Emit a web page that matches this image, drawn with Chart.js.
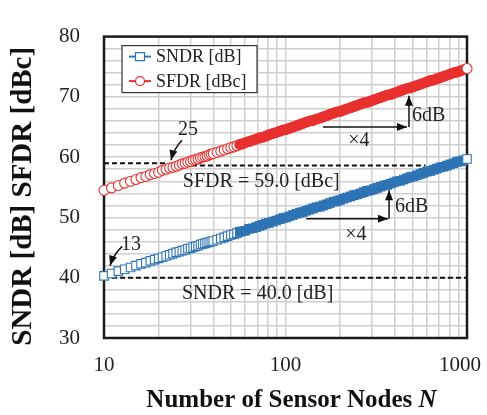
<!DOCTYPE html>
<html>
<head>
<meta charset="utf-8">
<script src="https://cdn.jsdelivr.net/npm/chart.js@4/dist/chart.umd.min.js"></script>
<style>
  html, body { margin: 0; padding: 0; background: #fff; }
</style>
</head>
<body>
<canvas id="myChart" width="487" height="415"></canvas>
<script>
// number of sensor nodes N (x values of both series)
const nodes = [10,11,12,13,14,15,16,17,18,19,20,21,22,23,24,25,26,27,28,29,30,31,32,33,34,35,36,37,38,39,40,
  42,44,46,48,50,52,54,56,58,60,63,66,69,72,75,78,81,85,89,93,97,101,105,110,115,120,125,130,
  136,142,148,155,162,169,176,184,192,200,209,218,228,238,248,259,270,282,294,307,320,334,348,
  363,379,395,412,430,448,467,487,508,530,553,577,602,628,655,683,712,743,775,808,843,879,917,956,1000];

const sndr = [40.3,40.7,41.1,41.4,41.7,42.0,42.3,42.5,42.8,43.0,
  43.2,43.4,43.6,43.8,44.0,44.2,44.3,44.5,44.6,44.8,
  44.9,45.1,45.2,45.3,45.5,45.6,45.7,45.8,45.9,46.0,46.1,
  46.3,46.5,46.7,46.9,47.1,47.2,47.4,47.6,47.7,47.8,
  48.1,48.2,48.4,48.6,48.8,49.0,49.1,
  49.3,49.5,49.7,49.9,50.0,50.2,
  50.4,50.6,50.8,50.9,51.1,
  51.3,51.5,51.7,51.8,52.0,52.2,52.4,
  52.6,52.7,52.9,53.1,53.3,53.5,53.7,53.8,
  54.0,54.2,54.4,54.5,54.7,54.9,55.1,55.3,
  55.4,55.6,55.8,56.0,56.1,56.3,56.5,56.7,
  56.8,57.0,57.2,57.4,57.6,57.7,57.9,58.1,
  58.3,58.4,58.6,58.8,59.0,59.2,59.3,59.5,59.7];

const sfdr = [54.5,54.9,55.3,55.7,56.0,56.3,56.6,56.8,57.1,57.3,
  57.5,57.8,58.0,58.2,58.3,58.5,58.7,58.9,59.0,59.2,
  59.3,59.5,59.6,59.7,59.9,60.0,60.1,60.2,60.4,60.5,60.6,
  60.8,61.0,61.2,61.4,61.6,61.7,61.9,62.1,62.2,62.4,
  62.6,62.8,63.0,63.2,63.3,63.5,63.7,
  63.9,64.1,64.3,64.5,64.6,64.8,
  65.0,65.2,65.4,65.6,65.8,
  66.0,66.1,66.3,66.5,66.7,66.9,67.1,
  67.3,67.5,67.6,67.8,68.0,68.2,68.4,68.6,
  68.8,69.0,69.1,69.3,69.5,69.7,69.9,70.1,
  70.3,70.4,70.6,70.8,71.0,71.2,71.4,71.5,
  71.7,71.9,72.1,72.3,72.5,72.7,72.8,73.0,
  73.2,73.4,73.6,73.8,74.0,74.1,74.3,74.5,74.7];

// dashed requirement lines
const sndrLimitN = [10, 1000];
const sndrLimit = [40.0, 40.0];
const sfdrLimitN1 = [10, 22.5];
const sfdrLimit1 = [59.0, 59.0];
const sfdrLimitN2 = [30.5, 590];
const sfdrLimit2 = [58.6, 58.6];

const xGridValues = [10,20,30,40,50,60,70,80,90,100,200,300,400,500,600,700,800,900,1000];
const xTickLabels = [10, 100, 1000];
const yTickLabels = [30, 40, 50, 60, 70, 80];

const blue = '#2e74b5';
const red = '#e8302f';
const serif = '"Liberation Serif", "Times New Roman", serif';

// annotations in data coordinates (N, dB)
const notes = [
  {text: '25', n: 29.0, v: 64.6, align: 'center'},
  {text: '13', n: 14.1, v: 45.5, align: 'center'},
  {text: 'SFDR = 59.0 [dBc]', n: 27.2, v: 55.9, align: 'left'},
  {text: 'SNDR = 40.0 [dB]', n: 26.9, v: 37.3, align: 'left'},
  {text: '6dB', n: 498, v: 66.8, align: 'left'},
  {text: '\u00d74', n: 254, v: 62.8, align: 'center'},
  {text: '6dB', n: 401, v: 51.7, align: 'left'},
  {text: '\u00d74', n: 244, v: 47.1, align: 'center'}
];
const arrows = [
  {from: [26.9, 62.8], to: [23.4, 59.5], bend: 3},
  {from: [12.6, 45.2], to: [10.8, 42.0], bend: 3},
  {from: [161, 65.0], to: [467, 65.0], bend: 0},
  {from: [479, 65.0], to: [479, 70.2], bend: 0},
  {from: [130, 49.8], to: [367, 49.8], bend: 0},
  {from: [372, 49.8], to: [372, 54.5], bend: 0}
];

function toPoints(xs, ys) {
  return xs.map((x, i) => ({x: x, y: ys[i]}));
}

function drawArrow(ctx, x1, y1, x2, y2, bend) {
  let cx = (x1 + x2) / 2, cy = (y1 + y2) / 2;
  if (bend) {
    const dx = x2 - x1, dy = y2 - y1, len = Math.hypot(dx, dy);
    cx += -dy / len * bend;
    cy += dx / len * bend;
  }
  ctx.beginPath();
  ctx.moveTo(x1, y1);
  ctx.quadraticCurveTo(cx, cy, x2, y2);
  ctx.stroke();
  const ang = Math.atan2(y2 - cy, x2 - cx);
  const hl = 10, hw = 4;
  const bx = x2 - hl * Math.cos(ang), by = y2 - hl * Math.sin(ang);
  ctx.beginPath();
  ctx.moveTo(x2, y2);
  ctx.lineTo(bx + hw * Math.sin(ang), by - hw * Math.cos(ang));
  ctx.lineTo(bx - hw * Math.sin(ang), by + hw * Math.cos(ang));
  ctx.closePath();
  ctx.fill();
}

function legendMarker(ctx, style, x, y, color) {
  ctx.strokeStyle = color;
  ctx.lineWidth = 2;
  ctx.beginPath();
  ctx.moveTo(x - 11, y);
  ctx.lineTo(x + 11, y);
  ctx.stroke();
  ctx.fillStyle = '#fff';
  ctx.lineWidth = 1.2;
  ctx.beginPath();
  if (style === 'rect') ctx.rect(x - 4.5, y - 4, 9, 8);
  else ctx.arc(x, y, 4.5, 0, Math.PI * 2);
  ctx.fill();
  ctx.stroke();
}

const overlay = {
  id: 'overlay',
  beforeDatasetsDraw(chart) {
    const {ctx, chartArea: a} = chart;
    ctx.save();
    ctx.strokeStyle = '#1a1a1a';
    ctx.lineWidth = 2.5;
    ctx.strokeRect(a.left, a.top, a.right - a.left, a.bottom - a.top);
    ctx.restore();
  },
  afterDatasetsDraw(chart) {
    const {ctx, chartArea: a, scales} = chart;
    const px = n => scales.x.getPixelForValue(n);
    const py = v => scales.y.getPixelForValue(v);
    ctx.save();
    // arrows
    ctx.strokeStyle = '#111';
    ctx.fillStyle = '#111';
    ctx.lineWidth = 1.5;
    arrows.forEach(ar => {
      drawArrow(ctx, px(ar.from[0]), py(ar.from[1]), px(ar.to[0]), py(ar.to[1]), ar.bend);
    });
    // text notes
    ctx.fillStyle = '#222';
    ctx.font = '20px ' + serif;
    ctx.textBaseline = 'middle';
    notes.forEach(nt => {
      ctx.textAlign = nt.align;
      ctx.fillText(nt.text, px(nt.n), py(nt.v));
    });
    // legend box
    const lx = a.left + 18, ly = a.top + 9, lw = 135, lh = 47;
    ctx.fillStyle = '#fff';
    ctx.fillRect(lx, ly, lw, lh);
    ctx.strokeStyle = '#333';
    ctx.lineWidth = 1.2;
    ctx.strokeRect(lx, ly, lw, lh);
    const items = [
      {label: 'SNDR [dB]', style: 'rect', color: blue},
      {label: 'SFDR [dBc]', style: 'circle', color: red}
    ];
    items.forEach((it, i) => {
      const y = ly + 11 + i * 24.5;
      legendMarker(ctx, it.style, lx + 18, y, it.color);
      ctx.fillStyle = '#222';
      ctx.font = '18px ' + serif;
      ctx.textAlign = 'left';
      ctx.fillText(it.label, lx + 34, y + 1);
    });
    ctx.restore();
  },
  afterDraw(chart) {
    const {ctx, chartArea: a, scales} = chart;
    ctx.save();
    ctx.fillStyle = '#222';
    ctx.textBaseline = 'middle';
    ctx.font = '21px ' + serif;
    xTickLabels.forEach(v => {
      const s = String(v);
      const w = ctx.measureText(s).width;
      let cx = scales.x.getPixelForValue(v);
      cx = Math.min(cx, chart.width - 6 - w / 2);
      ctx.textAlign = 'center';
      ctx.fillText(s, cx, a.bottom + 27);
    });
    // x title with italic N
    ctx.fillStyle = '#111';
    const p1 = 'Number of Sensor Nodes ';
    ctx.font = 'bold 25px ' + serif;
    const w1 = ctx.measureText(p1).width;
    ctx.font = 'bold italic 25px ' + serif;
    const w2 = ctx.measureText('N').width;
    const x0 = (a.left + a.right) / 2 + 6 - (w1 + w2) / 2;
    ctx.textAlign = 'left';
    ctx.font = 'bold 25px ' + serif;
    ctx.fillText(p1, x0, 401);
    ctx.font = 'bold italic 25px ' + serif;
    ctx.fillText('N', x0 + w1, 401);
    // y title
    ctx.translate(24, (a.top + a.bottom) / 2 + 9);
    ctx.rotate(-Math.PI / 2);
    ctx.textAlign = 'center';
    ctx.font = 'bold 29px ' + serif;
    ctx.fillText('SNDR [dB] SFDR [dBc]', 0, 0);
    ctx.restore();
  }
};

const limitStyle = {
  type: 'line', borderColor: '#111', borderWidth: 2, borderDash: [5, 3],
  pointRadius: 0, fill: false, clip: false
};

// hollow markers where they still stand apart, filled where they merge into a band
const markerFill = color => ctx => (ctx.raw && (ctx.raw.x <= 55 || ctx.raw.x === 1000)) ? '#fff' : color;

const config = {
  type: 'scatter',
  data: {
    datasets: [
      {
        label: 'SNDR [dB]',
        data: toPoints(nodes, sndr),
        pointStyle: 'rect',
        pointRadius: 6,
        pointBorderWidth: 1.1,
        borderColor: blue,
        pointBackgroundColor: markerFill(blue),
        clip: false
      },
      {
        label: 'SFDR [dBc]',
        data: toPoints(nodes, sfdr),
        pointStyle: 'circle',
        pointRadius: 5,
        pointBorderWidth: 1.1,
        borderColor: red,
        pointBackgroundColor: markerFill(red),
        clip: false
      },
      Object.assign({label: 'SNDR limit', data: toPoints(sndrLimitN, sndrLimit)}, limitStyle),
      Object.assign({label: 'SFDR limit', data: toPoints(sfdrLimitN1, sfdrLimit1)}, limitStyle),
      Object.assign({label: 'SFDR limit 2', data: toPoints(sfdrLimitN2, sfdrLimit2)}, limitStyle)
    ]
  },
  options: {
    responsive: false,
    animation: false,
    events: [],
    devicePixelRatio: 1,
    layout: { padding: { top: 16, right: 20, left: 0, bottom: 0 } },
    plugins: {
      legend: { display: false },
      tooltip: { enabled: false }
    },
    scales: {
      x: {
        type: 'logarithmic',
        min: 10,
        max: 1000,
        afterBuildTicks: s => { s.ticks = xGridValues.map(v => ({value: v})); },
        afterFit: s => { s.height = 77; },
        ticks: { display: false },
        grid: { color: '#cfcfcf', lineWidth: 1.5, drawTicks: false },
        border: { display: false }
      },
      y: {
        min: 30,
        max: 80,
        afterFit: s => { s.width = 104; },
        ticks: {
          stepSize: 2,
          autoSkip: false,
          padding: 24,
          color: '#222',
          font: { family: serif, size: 21 },
          callback: v => yTickLabels.includes(v) ? String(v) : ''
        },
        grid: { color: '#cfcfcf', lineWidth: 1.5, drawTicks: false },
        border: { display: false }
      }
    }
  },
  plugins: [overlay]
};

new Chart(document.getElementById('myChart'), config);
</script>
</body>
</html>
